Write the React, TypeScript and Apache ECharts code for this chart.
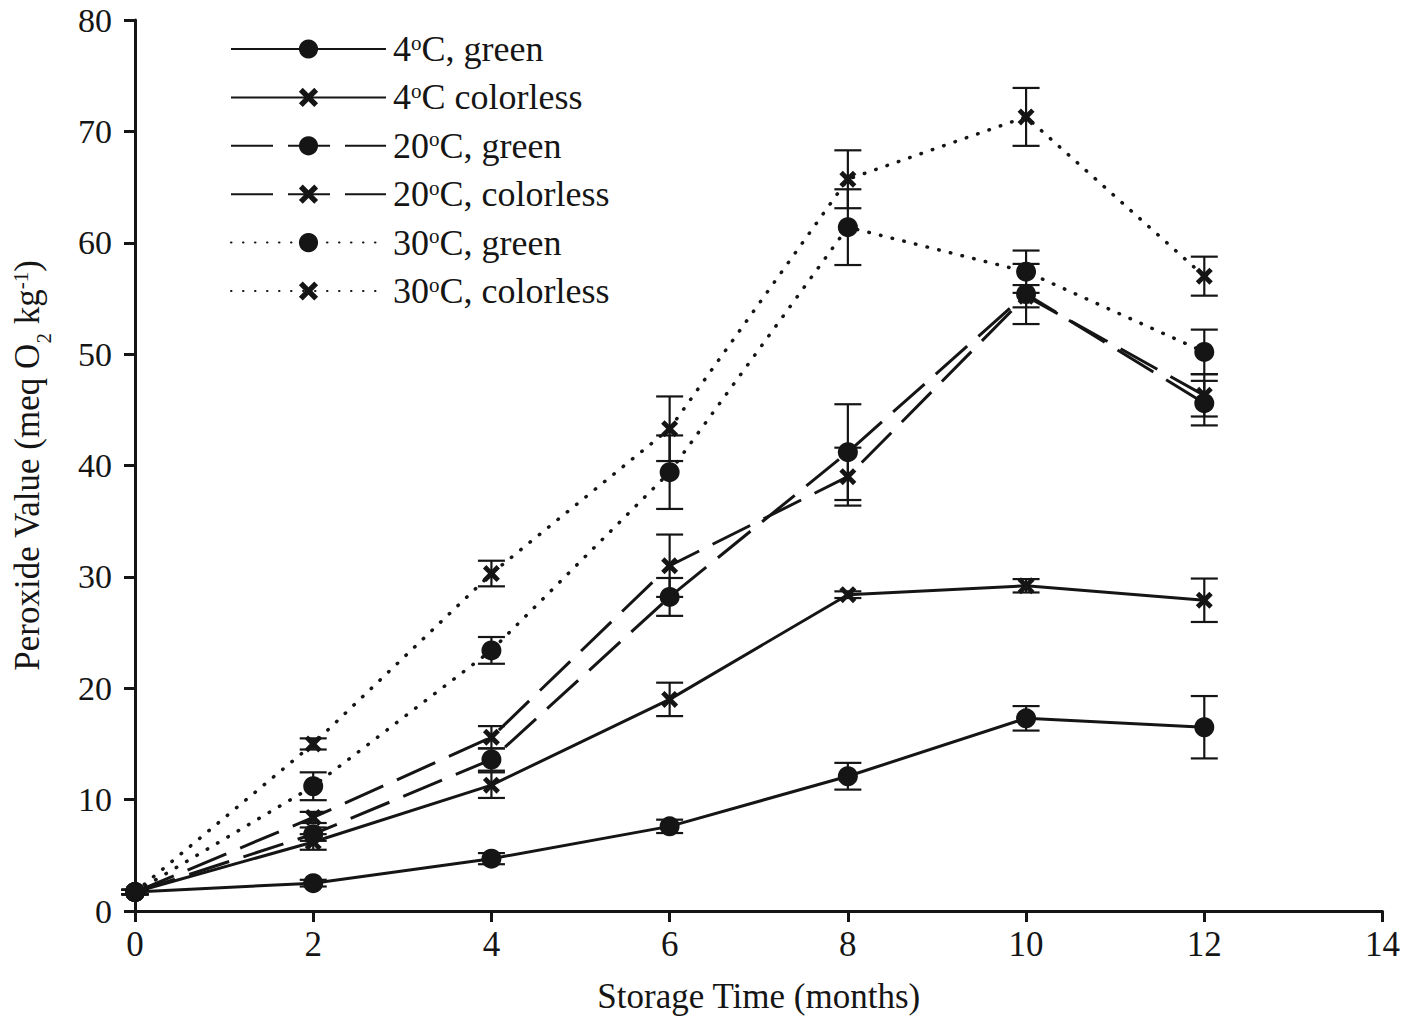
import React, { useEffect, useRef } from "react";
import * as echarts from "echarts";

const months = [0, 2, 4, 6, 8, 10, 12];
const seriesNames = [
  "4°C, green",
  "4°C colorless",
  "20°C, green",
  "20°C, colorless",
  "30°C, green",
  "30°C, colorless",
];
const pv4Green = [1.7, 2.5, 4.7, 7.6, 12.1, 17.3, 16.5];
const err4Green = [0.2, 0.3, 0.5, 0.6, 1.2, 1.1, 2.8];
const pv4Colorless = [1.7, 6.2, 11.3, 19.0, 28.4, 29.2, 27.9];
const err4Colorless = [0.2, 0.7, 1.15, 1.5, 0.3, 0.6, 1.95];
const pv20Green = [1.7, 6.9, 13.6, 28.2, 41.2, 55.4, 45.6];
const err20Green = [0.2, 0.6, 1.0, 1.7, 4.3, 2.7, 2.0];
const pv20Colorless = [1.7, 8.4, 15.6, 31.0, 39.0, 55.2, 46.3];
const err20Colorless = [0.2, 0.5, 1.0, 2.8, 2.6, 1.0, 1.9];
const pv30Green = [1.7, 11.2, 23.4, 39.4, 61.4, 57.4, 50.2];
const err30Green = [0.2, 1.25, 1.2, 3.3, 3.4, 1.9, 2.0];
const pv30Colorless = [1.7, 15.0, 30.3, 43.3, 65.7, 71.3, 57.0];
const err30Colorless = [0.2, 0.5, 1.15, 2.9, 2.6, 2.6, 1.75];

const xTicks = [0, 2, 4, 6, 8, 10, 12, 14];
const yTicks = [0, 10, 20, 30, 40, 50, 60, 70, 80];

const INK = "#151515";
const FONT = "'Liberation Serif', 'DejaVu Serif', serif";
const CROSS =
  "path://M0,2 L2,0 L5,3 L8,0 L10,2 L7,5 L10,8 L8,10 L5,7 L2,10 L0,8 L3,5 Z";

const allValues = [pv4Green, pv4Colorless, pv20Green, pv20Colorless, pv30Green, pv30Colorless];
const allErrors = [err4Green, err4Colorless, err20Green, err20Colorless, err30Green, err30Colorless];
const symbols = ["circle", CROSS, "circle", CROSS, "circle", CROSS];
const dashes: any[] = ["solid", "solid", [42, 15], [42, 15], [0.5, 11.5], [0.5, 11.5]];

export default function App() {
  const ref = useRef<HTMLDivElement>(null);
  useEffect(() => {
    if (!ref.current) return;
    const chart = echarts.init(ref.current, null, { renderer: "svg" });

    const lineSeries = allValues.map((vals, i) => ({
      name: seriesNames[i],
      type: "line",
      data: months.map((m, j) => [m, vals[j]]),
      symbol: symbols[i],
      symbolSize: symbols[i] === "circle" ? 20 : 17,
      showSymbol: true,
      z: 3,
      lineStyle: {
        color: INK,
        width: i >= 4 ? 3.5 : 3,
        type: dashes[i],
        cap: i >= 4 ? "round" : "butt",
      },
      itemStyle: { color: INK, borderWidth: 0 },
      emphasis: { disabled: true },
    }));

    const errSeries = allValues.map((vals, i) => ({
      name: seriesNames[i] + " err",
      type: "custom",
      z: 2,
      data: months.map((m, j) => [m, vals[j], allErrors[i][j]]),
      renderItem: (params: any, api: any) => {
        const x = api.value(0);
        const y = api.value(1);
        const e = api.value(2);
        const top = api.coord([x, y + e]);
        const bot = api.coord([x, y - e]);
        const hw = 13.5;
        const st = { stroke: INK, lineWidth: 2.2 };
        return {
          type: "group",
          children: [
            { type: "line", shape: { x1: top[0], y1: top[1], x2: bot[0], y2: bot[1] }, style: st },
            { type: "line", shape: { x1: top[0] - hw, y1: top[1], x2: top[0] + hw, y2: top[1] }, style: st },
            { type: "line", shape: { x1: bot[0] - hw, y1: bot[1], x2: bot[0] + hw, y2: bot[1] }, style: st },
          ],
        };
      },
    }));

    const axisText = { color: INK, fontFamily: FONT, fontSize: 35 };

    chart.setOption({
      animation: false,
      backgroundColor: "#ffffff",
      grid: { left: 135, right: 18, top: 20, bottom: 107 },
      legend: {
        data: seriesNames,
        orient: "vertical",
        left: 230,
        top: 31,
        padding: 0,
        itemWidth: 155,
        itemHeight: 24,
        itemGap: 12.4,
        selectedMode: false,
        formatter: (n: string) => n.replace("°", "{sup|o}"),
        textStyle: {
          color: INK,
          fontFamily: FONT,
          fontSize: 36,
          lineHeight: 34,
          padding: [0, 0, 0, 2],
          rich: {
            sup: { fontSize: 21, fontFamily: FONT, color: INK, verticalAlign: "top", lineHeight: 18 },
          },
        },
      },
      xAxis: {
        type: "value",
        min: 0,
        max: 14,
        interval: 2,
        name: "Storage Time (months)",
        nameLocation: "middle",
        nameGap: 68,
        nameTextStyle: { ...axisText },
        axisLine: { show: true, lineStyle: { color: INK, width: 3 } },
        axisTick: { show: true, length: 11, lineStyle: { color: INK, width: 3 } },
        axisLabel: { ...axisText, margin: 16, formatter: (v: number) => (xTicks.includes(v) ? String(v) : "") },
        splitLine: { show: false },
      },
      yAxis: {
        type: "value",
        min: 0,
        max: 80,
        interval: 10,
        name: "Peroxide Value (meq O{sub|2} kg{sup|-1})",
        nameLocation: "middle",
        nameRotate: 90,
        nameGap: 90,
        nameTextStyle: {
          ...axisText,
          rich: {
            sub: { fontSize: 21, fontFamily: FONT, color: INK, verticalAlign: "bottom", lineHeight: 21, padding: [0, 0, -9, 0] },
            sup: { fontSize: 21, fontFamily: FONT, color: INK, verticalAlign: "top", lineHeight: 21 },
          },
        },
        axisLine: { show: true, lineStyle: { color: INK, width: 3 } },
        axisTick: { show: true, length: 11, lineStyle: { color: INK, width: 3 } },
        axisLabel: {
          ...axisText,
          fontSize: 34,
          lineHeight: 30,
          margin: 23,
          formatter: (v: number) => (yTicks.includes(v) ? String(v) : ""),
        },
        splitLine: { show: false },
      },
      series: [...errSeries, ...lineSeries],
    });
    return () => chart.dispose();
  }, []);
  return (
    <div
      ref={ref}
      style={{ position: "fixed", left: 0, top: 0, width: 1403, height: 1019, background: "#fff" }}
    />
  );
}
